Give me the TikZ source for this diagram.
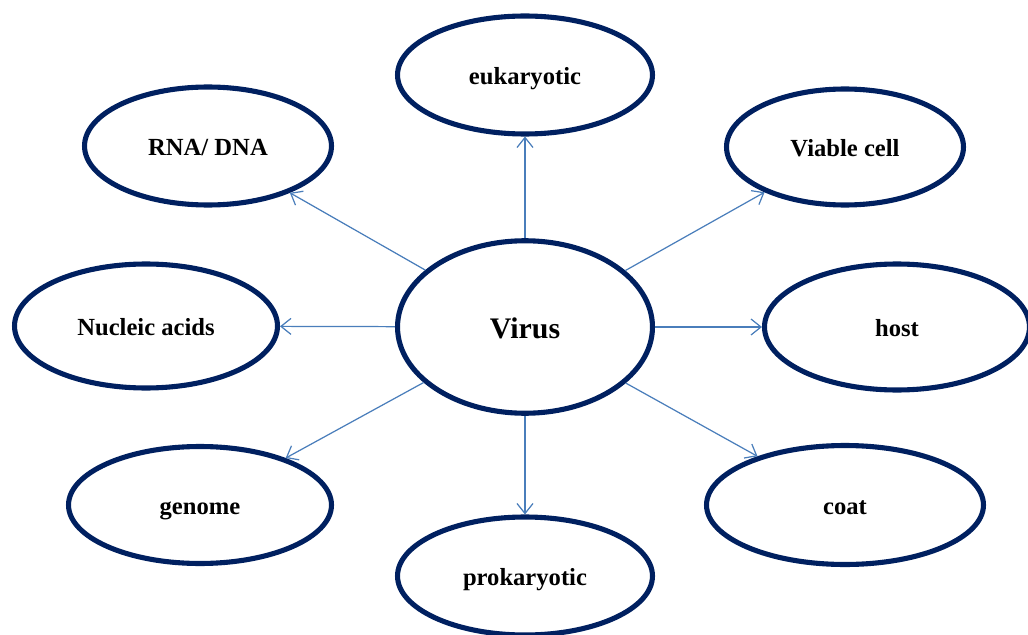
\documentclass[tikz,border=0pt]{standalone}
\usepackage{fontspec}
\setmainfont{Liberation Serif}
\usetikzlibrary{shapes.geometric, arrows.meta}

\begin{document}
\begin{tikzpicture}[
        x=0.02cm, y=-0.02cm,
        bubble/.style={ellipse, draw=navyblue, line width=2.9pt, fill=white, inner sep=0pt, text height=11.5pt, text depth=1pt, font=\fontsize{14}{16}\selectfont\bfseries},
        arrow/.style={-{Straight Barb[length=2mm, width=3.2mm]}, draw=linkblue, line width=0.7pt}
    ]
    \definecolor{navyblue}{HTML}{002060}
    \definecolor{linkblue}{HTML}{4A7EBB}
    \useasboundingbox (0,0) rectangle (1028,635);
    \clip (0,0) rectangle (1028,635);

    \node (virus) [bubble, minimum width=5.1cm, minimum height=3.45cm, text height=14.5pt, text depth=1pt, font=\fontsize{17}{19}\selectfont\bfseries] at (525,327) {Virus};
    \node (euk) [bubble, minimum width=5.1cm, minimum height=2.36cm] at (525,75) {eukaryotic};
    \node (rna) [bubble, minimum width=4.94cm, minimum height=2.36cm] at (208,146) {RNA/ DNA};
    \node (viable) [bubble, minimum width=4.74cm, minimum height=2.32cm] at (845,147) {Viable cell};
    \node (nucleic) [bubble, minimum width=5.26cm, minimum height=2.48cm] at (146,326) {Nucleic acids};
    \node (host) [bubble, minimum width=5.3cm, minimum height=2.52cm] at (897,327) {host};
    \node (genome) [bubble, minimum width=5.26cm, minimum height=2.34cm] at (200,505) {genome};
    \node (prok) [bubble, minimum width=5.1cm, minimum height=2.36cm] at (525,576) {prokaryotic};
    \node (coat) [bubble, minimum width=5.54cm, minimum height=2.38cm] at (845,505) {coat};

    \foreach \target in {euk, rna, viable, nucleic, host, genome, prok, coat}
        \draw [arrow] (virus) -- (\target);

\end{tikzpicture}
\end{document}
